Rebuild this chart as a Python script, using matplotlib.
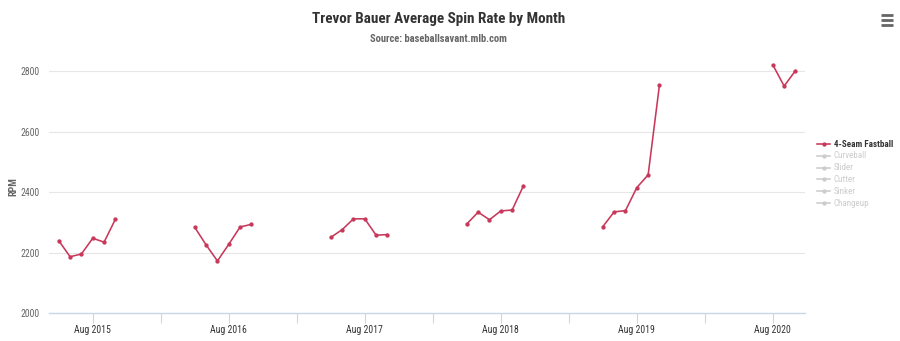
import matplotlib
matplotlib.use("Agg")
import matplotlib.pyplot as plt
import numpy as np
from matplotlib import font_manager
from matplotlib.lines import Line2D

# ---------------- data ----------------
seasons = [2015, 2016, 2017, 2018, 2019, 2020]
first_month = [5, 5, 5, 5, 5, 8]          # first plotted month of each season
spin_2015 = [2240, 2187, 2196, 2248, 2235, 2311]
spin_2016 = [2284, 2226, 2173, 2228, 2285, 2294]
spin_2017 = [2251, 2276, 2312, 2312, 2258, 2260]
spin_2018 = [2295, 2334, 2309, 2338, 2341, 2421]
spin_2019 = [2286, 2335, 2339, 2415, 2457, 2754]
spin_2020 = [2820, 2750, 2801]
season_values = [spin_2015, spin_2016, spin_2017, spin_2018, spin_2019, spin_2020]

tick_labels = ["Aug 2015", "Aug 2016", "Aug 2017", "Aug 2018", "Aug 2019", "Aug 2020"]
y_ticks = [2000, 2200, 2400, 2600, 2800]
series_names = ["4-Seam Fastball", "Curveball", "Slider", "Cutter", "Sinker", "Changeup"]
series_visible = [True, False, False, False, False, False]

title = "Trevor Bauer Average Spin Rate by Month"
subtitle = "Source: baseballsavant.mlb.com"

# ---------------- fonts ----------------
avail = {f.name for f in font_manager.fontManager.ttflist}
fam = next((f for f in ["Roboto Condensed", "Liberation Sans Narrow", "Roboto", "DejaVu Sans"] if f in avail), "DejaVu Sans")
plt.rcParams["font.family"] = [fam, "DejaVu Sans"]

W, H = 900, 341
fig = plt.figure(figsize=(W / 100, H / 100), dpi=100)
left_px, right_px, top_px, bottom_px = 49, 805, 60, 313.4
ax = fig.add_axes([left_px / W, 1 - bottom_px / H, (right_px - left_px) / W, (bottom_px - top_px) / H])

LINE = "#c8385a"

def mx(year, month):
    return (year - 2015) * 12 + (month - 8)

for yr, fm, vals in zip(seasons, first_month, season_values):
    xs = [mx(yr, fm + i) for i in range(len(vals))]
    ax.plot(xs, vals, color=LINE, lw=1.15, marker="o", ms=2.1, mec=LINE, mfc=LINE, zorder=3,
            solid_joinstyle="round")

ax.set_xlim(-3.86, 62.84)
ax.set_ylim(2000, 2836)

for s in ["top", "right", "left"]:
    ax.spines[s].set_visible(False)
ax.spines["bottom"].set_color("#ccd6eb")
ax.spines["bottom"].set_linewidth(1.0)

ax.set_yticks(y_ticks)
ax.set_yticklabels([str(v) for v in y_ticks])
ax.yaxis.grid(True, color="#e6e6e6", lw=0.8)
ax.set_axisbelow(True)
ax.tick_params(axis="y", length=0, pad=7, labelsize=7, labelcolor="#666666")

major_x = [mx(y, 8) for y in seasons]
minor_x = [mx(y, 2) for y in seasons[1:]]
ax.set_xticks(major_x)
ax.set_xticklabels(tick_labels)
ax.set_xticks(minor_x, minor=True)
ax.tick_params(axis="x", which="both", length=7.2, width=0.8, color="#ccd6eb", direction="out")
ax.tick_params(axis="x", which="major", pad=1.5, labelsize=7, labelcolor="#333333")

ax.set_ylabel("RPM", fontsize=7.2, fontweight="bold", color="#666666", labelpad=6)
ax.yaxis.set_label_coords(-31 / (right_px - left_px), 0.5)

fig.text(439 / W, 1 - 19 / H, title, ha="center", va="center", fontsize=10.9,
         fontweight="bold", color="#333333")
fig.text(438 / W, 1 - 39.5 / H, subtitle, ha="center", va="center", fontsize=7.6,
         fontweight="bold", color="#666666")

# legend
row_y = [144, 155.8, 167.6, 179.4, 191.2, 203]
for name, vis, ry in zip(series_names, series_visible, row_y):
    c = LINE if vis else "#cccccc"
    yy = 1 - ry / H
    fig.add_artist(Line2D([817 / W, 830 / W], [yy, yy], color=c, lw=1.15, transform=fig.transFigure))
    fig.add_artist(Line2D([823.5 / W], [yy], color=c, marker="o", ms=2.1, transform=fig.transFigure))
    fig.text(834 / W, yy, name, ha="left", va="center", fontsize=6.5,
             fontweight="bold" if vis else "normal", color="#333333" if vis else "#cccccc")

# hamburger menu icon
for by in [15, 20, 25]:
    fig.add_artist(Line2D([881 / W, 893 / W], [1 - by / H] * 2, color="#666666", lw=2.0,
                          solid_capstyle="butt", transform=fig.transFigure))

fig.savefig("out.png", dpi=100, facecolor="white")
